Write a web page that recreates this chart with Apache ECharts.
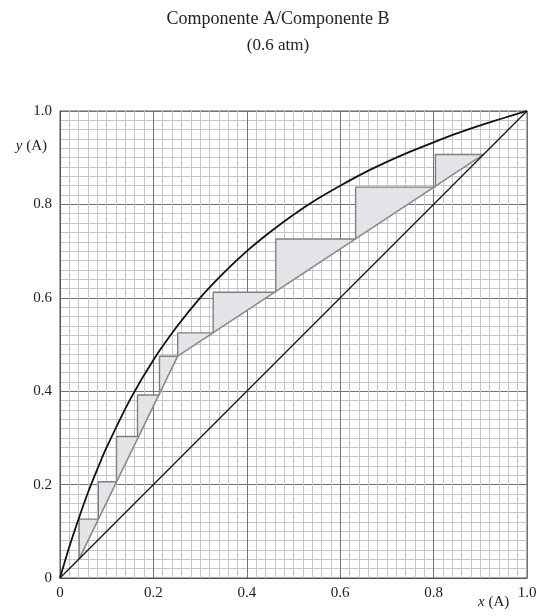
<!DOCTYPE html>
<html>
<head>
<meta charset="utf-8">
<script src="https://cdn.jsdelivr.net/npm/echarts@6/dist/echarts.min.js"></script>
<style>
html,body{margin:0;padding:0;background:#fff;}
#c{width:556px;height:616px;}
</style>
</head>
<body>
<div id="c"></div>
<script>
// Equilibrium curve
const eqX = [0, 0.02, 0.04, 0.06, 0.08, 0.10, 0.15, 0.20, 0.25, 0.30, 0.35, 0.40, 0.45, 0.50, 0.55, 0.60, 0.65, 0.70, 0.75, 0.80, 0.85, 0.90, 0.95, 1.00];
const eqY = [0, 0.067, 0.127, 0.183, 0.233, 0.280, 0.382, 0.467, 0.538, 0.600, 0.653, 0.700, 0.741, 0.778, 0.811, 0.840, 0.867, 0.891, 0.913, 0.933, 0.952, 0.969, 0.985, 1.00];
// Diagonal y = x
const diagX = [0, 1];
const diagY = [0, 1];
// Operating lines (lower, feed intersection, upper)
const opX = [0.041, 0.252, 0.907];
const opY = [0.041, 0.475, 0.907];
// Stage staircase: corner x and horizontal levels
const stepStart = 0.907;
const cornerX = [0.804, 0.633, 0.462, 0.328, 0.252, 0.213, 0.166, 0.121, 0.082, 0.041];
const levelY  = [0.907, 0.837, 0.726, 0.612, 0.525, 0.475, 0.392, 0.303, 0.206, 0.126];
const stepEndY = 0.041;
// Tick labels
const xTicks = ['0', '0.2', '0.4', '0.6', '0.8', '1.0'];
const yTicks = ['0', '0.2', '0.4', '0.6', '0.8', '1.0'];

const pair = (xs, ys) => xs.map((x, i) => [x, ys[i]]);

// staircase polyline
const stairs = [[stepStart, levelY[0]]];
const tris = [];
for (let k = 0; k < cornerX.length; k++) {
  const prevX = k === 0 ? stepStart : cornerX[k - 1];
  const nextY = k + 1 < levelY.length ? levelY[k + 1] : stepEndY;
  stairs.push([cornerX[k], levelY[k]]);
  stairs.push([cornerX[k], nextY]);
  tris.push([prevX, levelY[k], cornerX[k], levelY[k], cornerX[k], nextY]);
}

const serif = '"Liberation Serif", "DejaVu Serif", serif';
const tickFmt = (arr) => (v) => arr[Math.round(v / 0.2)] || '';

const chart = echarts.init(document.getElementById('c'), null, {renderer: 'canvas'});
chart.setOption({
  backgroundColor: '#fff',
  animation: false,
  title: {
    text: 'Componente A/Componente B',
    subtext: '(0.6 atm)',
    left: 'center',
    top: 5,
    itemGap: 9,
    textStyle: {fontFamily: serif, fontSize: 18, fontWeight: 'normal', color: '#222'},
    subtextStyle: {fontFamily: serif, fontSize: 17, color: '#222'}
  },
  grid: {left: 60, top: 111, width: 467, height: 467, show: true, borderColor: '#555', borderWidth: 1, backgroundColor: 'transparent'},
  xAxis: {
    type: 'value', min: 0, max: 1, interval: 0.2,
    axisLine: {show: true, lineStyle: {color: '#555', width: 1}},
    axisTick: {show: false},
    axisLabel: {formatter: tickFmt(xTicks), fontFamily: serif, fontSize: 15, color: '#222', margin: 8},
    splitLine: {show: true, lineStyle: {color: '#727272', width: 1}},
    minorTick: {show: false, splitNumber: 10},
    minorSplitLine: {show: true, lineStyle: {color: '#c6c6c6', width: 1}}
  },
  yAxis: {
    type: 'value', min: 0, max: 1, interval: 0.2,
    name: '{i|y} (A)',
    nameLocation: 'end',
    nameGap: -43,
    nameTextStyle: {fontFamily: serif, fontSize: 15, color: '#222', align: 'right', padding: [0, 13, 0, 0],
      rich: {i: {fontFamily: serif, fontSize: 15, fontStyle: 'italic', color: '#222'}}},
    axisLine: {show: true, lineStyle: {color: '#555', width: 1}},
    axisTick: {show: false},
    axisLabel: {formatter: tickFmt(yTicks), fontFamily: serif, fontSize: 15, color: '#222', margin: 8},
    splitLine: {show: true, lineStyle: {color: '#727272', width: 1}},
    minorTick: {show: false, splitNumber: 10},
    minorSplitLine: {show: true, lineStyle: {color: '#c6c6c6', width: 1}}
  },
  graphic: [{
    type: 'text', left: 478, top: 595,
    style: {rich: {i: {fontFamily: serif, fontSize: 15, fontStyle: 'italic', fill: '#222'}, n: {fontFamily: serif, fontSize: 15, fill: '#222'}},
      text: '{i|x}{n| (A)}'}
  }],
  series: [
    {
      type: 'custom', z: 2, silent: true,
      data: tris,
      dimensions: ['x1', 'y1', 'x2', 'y2', 'x3', 'y3'],
      encode: {x: [0, 2, 4], y: [1, 3, 5]},
      renderItem: function (params, api) {
        const p1 = api.coord([api.value(0), api.value(1)]);
        const p2 = api.coord([api.value(2), api.value(3)]);
        const p3 = api.coord([api.value(4), api.value(5)]);
        return {type: 'polygon', shape: {points: [p1, p2, p3]}, style: {fill: '#e4e4e8', stroke: null}};
      }
    },
    {type: 'line', z: 3, data: stairs, showSymbol: false, silent: true, lineStyle: {color: '#808080', width: 1.4}},
    {type: 'line', z: 4, data: pair(opX, opY), showSymbol: false, silent: true, lineStyle: {color: '#8a8a8a', width: 1.6}},
    {type: 'line', z: 5, data: pair(diagX, diagY), showSymbol: false, silent: true, lineStyle: {color: '#111', width: 1.3}},
    {type: 'line', z: 6, data: pair(eqX, eqY), smooth: 0.3, showSymbol: false, silent: true, lineStyle: {color: '#111', width: 1.8}}
  ]
});
</script>
</body>
</html>
